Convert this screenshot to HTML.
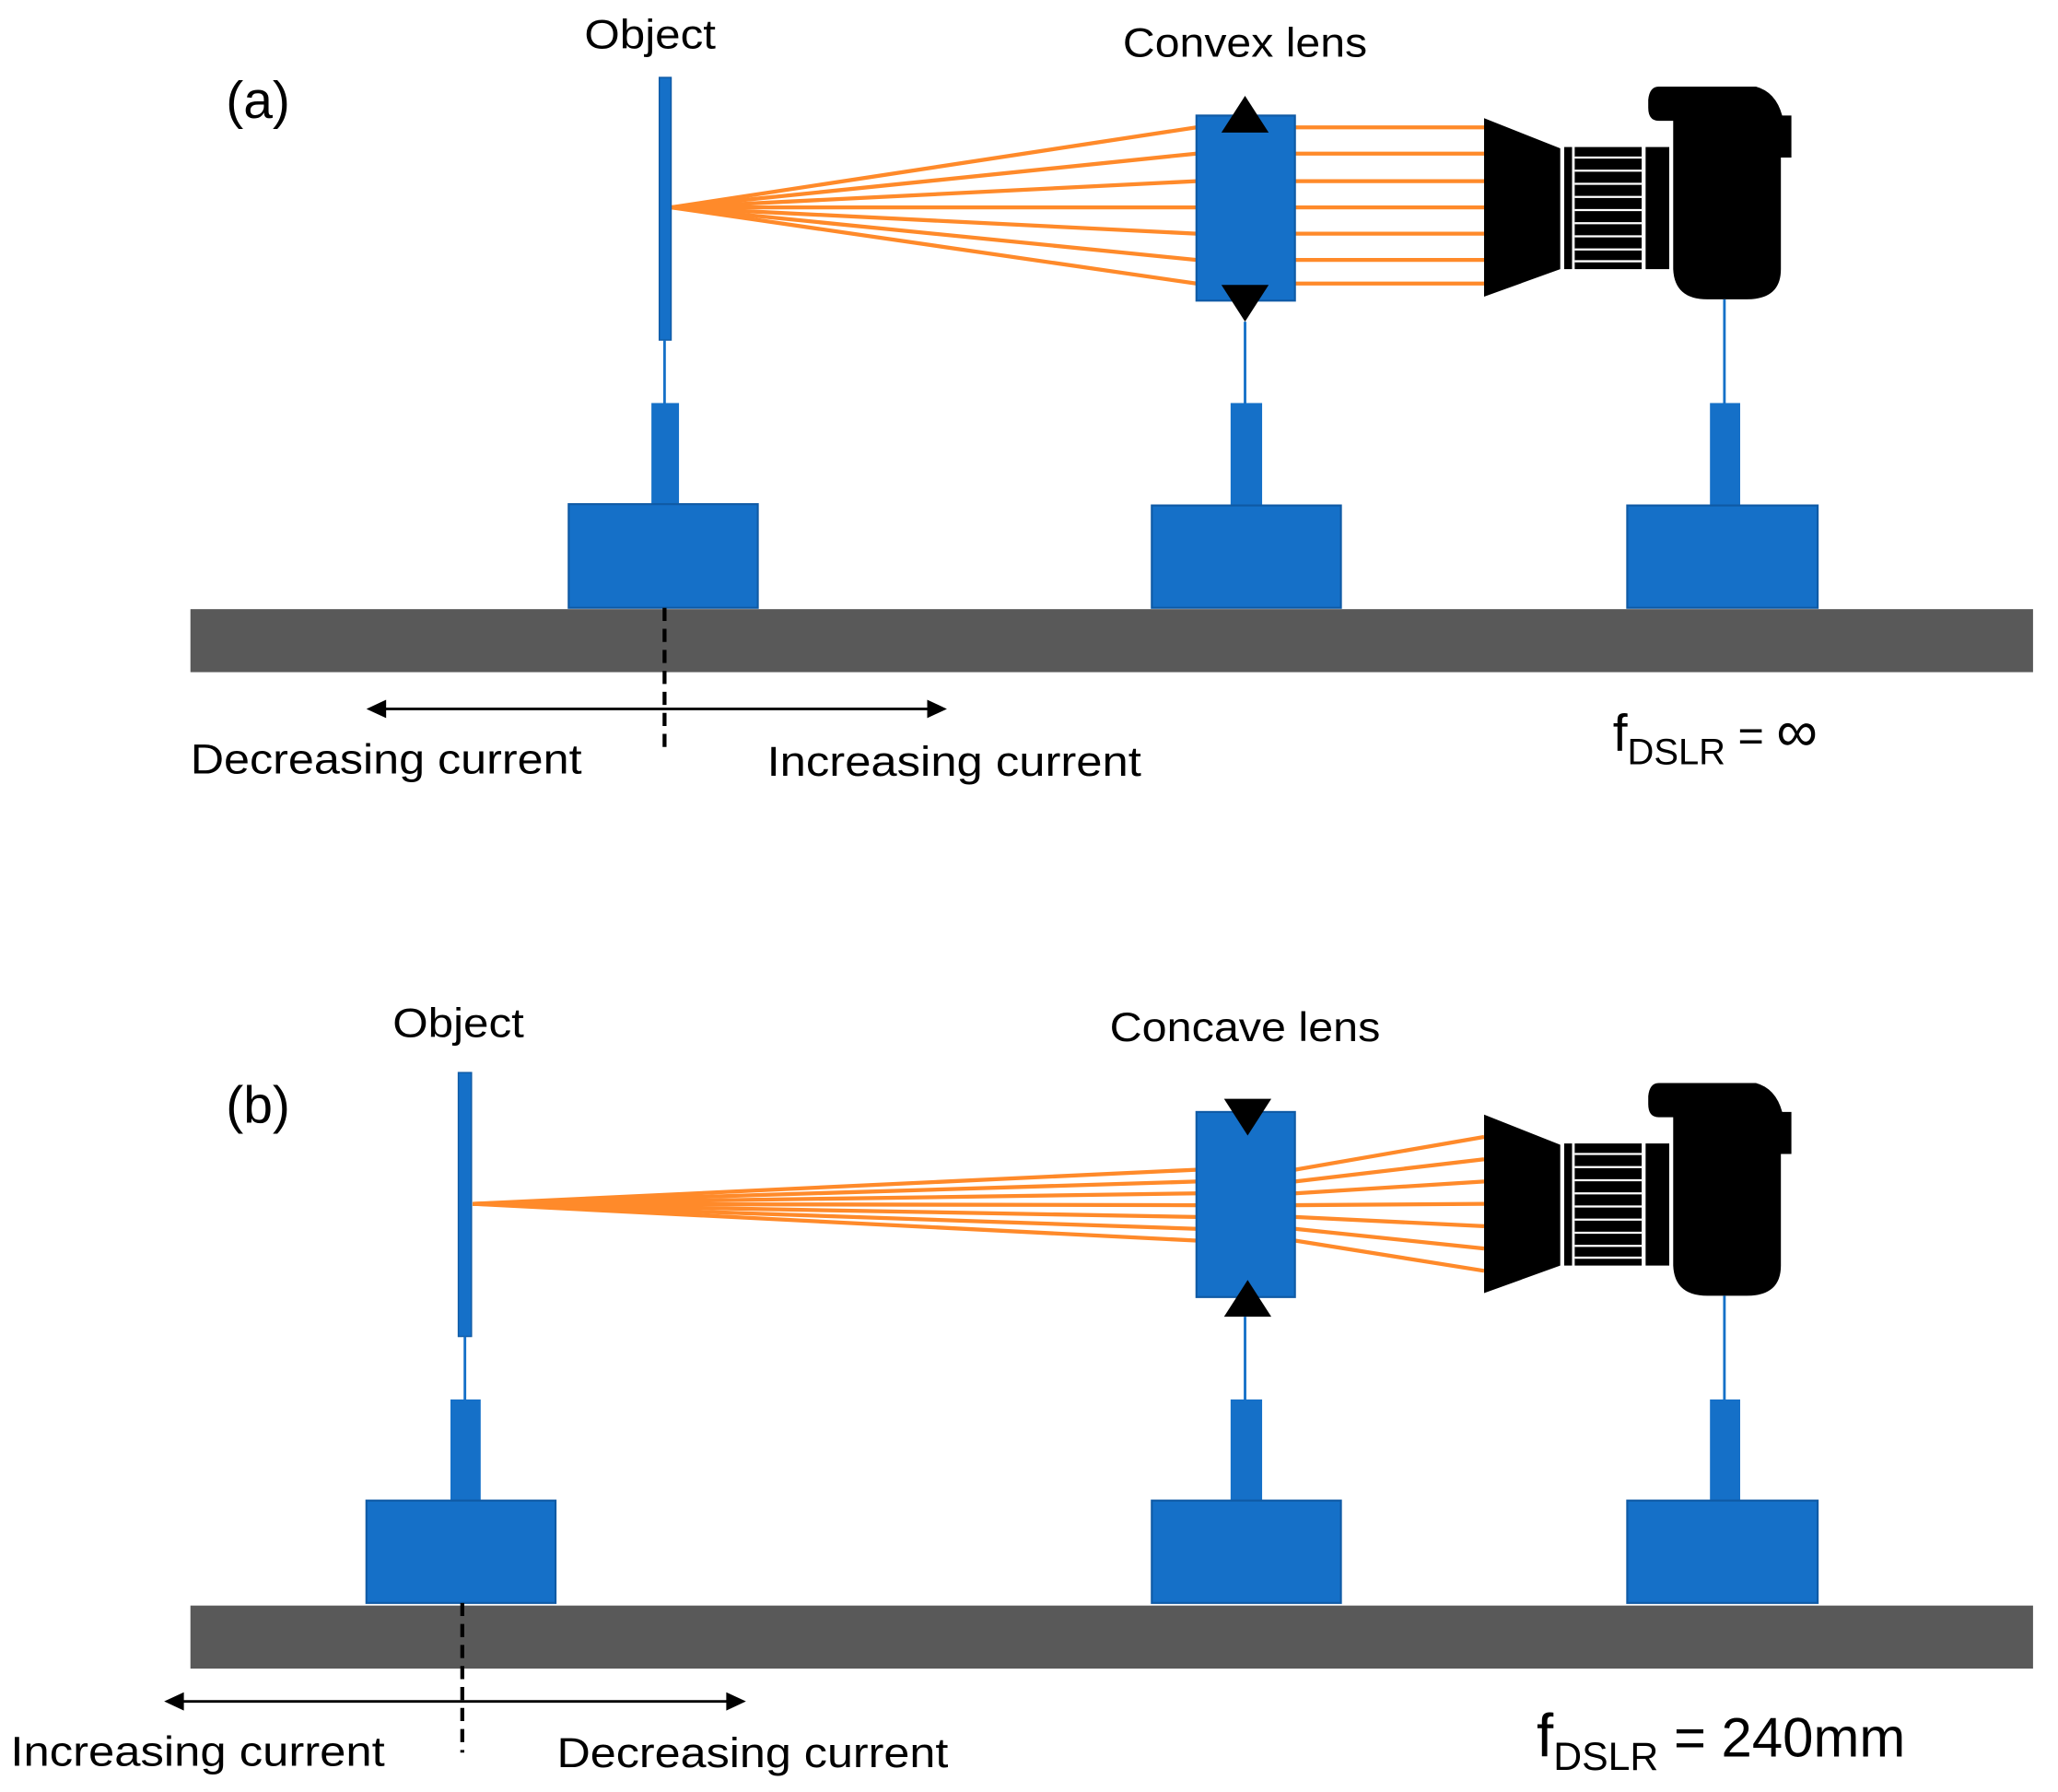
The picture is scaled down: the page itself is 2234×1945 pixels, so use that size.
<!DOCTYPE html>
<html><head><meta charset="utf-8"><style>
html,body{margin:0;padding:0;background:#fff;}
svg{display:block;}
text{font-family:"Liberation Sans",sans-serif;fill:#000;}
</style></head><body>
<svg width="2234" height="1945" viewBox="0 0 1567 1365" preserveAspectRatio="none" xmlns="http://www.w3.org/2000/svg">
<defs>
<g id="cam">
<polygon points="1130,90 1188,113 1188,205 1130,226" fill="#000"/>
<rect x="1191" y="112" width="6" height="93" fill="#000"/>
<rect x="1199" y="112" width="51" height="93" fill="#000"/>
<g stroke="#fff" stroke-width="1.6">
<line x1="1199" y1="120" x2="1250" y2="120"/><line x1="1199" y1="130" x2="1250" y2="130"/>
<line x1="1199" y1="140" x2="1250" y2="140"/><line x1="1199" y1="150" x2="1250" y2="150"/>
<line x1="1199" y1="160" x2="1250" y2="160"/><line x1="1199" y1="170" x2="1250" y2="170"/>
<line x1="1199" y1="180" x2="1250" y2="180"/><line x1="1199" y1="190" x2="1250" y2="190"/>
<line x1="1199" y1="199" x2="1250" y2="199"/>
</g>
<rect x="1253" y="112" width="18" height="93" fill="#000"/>
<path d="M1263,66 H1337 Q1352,70 1357,88 H1364 V120 H1356 V205 Q1356,228 1330,228 H1300 Q1275,228 1274,205 V92 H1263 Q1255,92 1255,82 V76 Q1256,66 1263,66 Z" fill="#000"/>
</g>
</defs>

<!-- (a) -->
<text x="172" y="90" font-size="40">(a)</text>
<text x="495" y="37" font-size="31" text-anchor="middle" textLength="100" lengthAdjust="spacingAndGlyphs">Object</text>
<text x="948" y="43" font-size="31" text-anchor="middle" textLength="186" lengthAdjust="spacingAndGlyphs">Convex lens</text>

<g stroke="#ff8a2a" stroke-width="3">
<line x1="511" y1="158" x2="911" y2="97"/><line x1="511" y1="158" x2="911" y2="117"/>
<line x1="511" y1="158" x2="911" y2="138"/><line x1="511" y1="158" x2="911" y2="158"/>
<line x1="511" y1="158" x2="911" y2="178"/><line x1="511" y1="158" x2="911" y2="198"/>
<line x1="511" y1="158" x2="911" y2="216"/>
<line x1="986" y1="97" x2="1130" y2="97"/><line x1="986" y1="117" x2="1130" y2="117"/>
<line x1="986" y1="138" x2="1130" y2="138"/><line x1="986" y1="158" x2="1130" y2="158"/>
<line x1="986" y1="178" x2="1130" y2="178"/><line x1="986" y1="198" x2="1130" y2="198"/>
<line x1="986" y1="216" x2="1130" y2="216"/>
</g>

<rect x="145" y="464" width="1403" height="48" fill="#595959"/>
<rect x="502" y="59" width="9" height="200" fill="#1570c8" stroke="#0f5aa5" stroke-width="1"/>
<line x1="506" y1="259" x2="506" y2="307" stroke="#1570c8" stroke-width="2"/>
<rect x="496" y="307" width="21" height="77" fill="#1570c8"/>
<rect x="433" y="384" width="144" height="79" fill="#1570c8" stroke="#0f5aa5" stroke-width="1.5"/>

<rect x="911" y="88" width="75" height="141" fill="#1570c8" stroke="#0f5aa5" stroke-width="1.5"/>
<polygon points="948,73 930,101 966,101" fill="#000"/>
<polygon points="948,245 930,217 966,217" fill="#000"/>
<line x1="948" y1="245" x2="948" y2="307" stroke="#1570c8" stroke-width="2"/>
<rect x="937" y="307" width="24" height="78" fill="#1570c8"/>
<rect x="877" y="385" width="144" height="78" fill="#1570c8" stroke="#0f5aa5" stroke-width="1.5"/>

<use href="#cam"/>
<line x1="1313" y1="228" x2="1313" y2="307" stroke="#1570c8" stroke-width="2"/>
<rect x="1302" y="307" width="23" height="78" fill="#1570c8"/>
<rect x="1239" y="385" width="145" height="78" fill="#1570c8" stroke="#0f5aa5" stroke-width="1.5"/>

<line x1="506" y1="463" x2="506" y2="575" stroke="#000" stroke-width="3" stroke-dasharray="10,6"/>
<line x1="288" y1="540" x2="712" y2="540" stroke="#000" stroke-width="2"/>
<polygon points="279,540 294,533 294,547" fill="#000"/>
<polygon points="721,540 706,533 706,547" fill="#000"/>
<text x="145" y="589" font-size="32" textLength="298" lengthAdjust="spacingAndGlyphs">Decreasing current</text>
<text x="584" y="591" font-size="32" textLength="285" lengthAdjust="spacingAndGlyphs">Increasing current</text>
<text x="1228" y="572" font-size="40">f<tspan font-size="28" dy="10">DSLR</tspan><tspan dy="-10" font-size="34"> = </tspan><tspan font-size="44">∞</tspan></text>

<!-- (b) -->
<text x="172" y="855" font-size="40">(b)</text>
<text x="349" y="790" font-size="31" text-anchor="middle" textLength="100" lengthAdjust="spacingAndGlyphs">Object</text>
<text x="948" y="793" font-size="31" text-anchor="middle" textLength="206" lengthAdjust="spacingAndGlyphs">Concave lens</text>

<g stroke="#ff8a2a" stroke-width="3">
<line x1="360" y1="917" x2="911" y2="891"/><line x1="360" y1="917" x2="911" y2="900"/>
<line x1="360" y1="917" x2="911" y2="909"/><line x1="360" y1="917" x2="911" y2="918"/>
<line x1="360" y1="917" x2="911" y2="927"/><line x1="360" y1="917" x2="911" y2="936"/>
<line x1="360" y1="917" x2="911" y2="945"/>
<line x1="986" y1="891" x2="1130" y2="866"/><line x1="986" y1="900" x2="1130" y2="883"/>
<line x1="986" y1="909" x2="1130" y2="900"/><line x1="986" y1="918" x2="1130" y2="917"/>
<line x1="986" y1="927" x2="1130" y2="934"/><line x1="986" y1="936" x2="1130" y2="951"/>
<line x1="986" y1="945" x2="1130" y2="968"/>
</g>

<rect x="145" y="1223" width="1403" height="48" fill="#595959"/>
<rect x="349" y="817" width="10" height="201" fill="#1570c8" stroke="#0f5aa5" stroke-width="1"/>
<line x1="354" y1="1018" x2="354" y2="1066" stroke="#1570c8" stroke-width="2"/>
<rect x="343" y="1066" width="23" height="77" fill="#1570c8"/>
<rect x="279" y="1143" width="144" height="78" fill="#1570c8" stroke="#0f5aa5" stroke-width="1.5"/>

<rect x="911" y="847" width="75" height="141" fill="#1570c8" stroke="#0f5aa5" stroke-width="1.5"/>
<polygon points="950,865 932,837 968,837" fill="#000"/>
<polygon points="950,975 932,1003 968,1003" fill="#000"/>
<line x1="948" y1="1003" x2="948" y2="1066" stroke="#1570c8" stroke-width="2"/>
<rect x="937" y="1066" width="24" height="77" fill="#1570c8"/>
<rect x="877" y="1143" width="144" height="78" fill="#1570c8" stroke="#0f5aa5" stroke-width="1.5"/>

<use href="#cam" transform="translate(0,759)"/>
<line x1="1313" y1="987" x2="1313" y2="1066" stroke="#1570c8" stroke-width="2"/>
<rect x="1302" y="1066" width="23" height="77" fill="#1570c8"/>
<rect x="1239" y="1143" width="145" height="78" fill="#1570c8" stroke="#0f5aa5" stroke-width="1.5"/>

<line x1="352" y1="1221" x2="352" y2="1335" stroke="#000" stroke-width="3" stroke-dasharray="10,6"/>
<line x1="134" y1="1296" x2="559" y2="1296" stroke="#000" stroke-width="2"/>
<polygon points="125,1296 140,1289 140,1303" fill="#000"/>
<polygon points="568,1296 553,1289 553,1303" fill="#000"/>
<text x="8" y="1345" font-size="32" textLength="285" lengthAdjust="spacingAndGlyphs">Increasing current</text>
<text x="424" y="1346" font-size="32" textLength="298" lengthAdjust="spacingAndGlyphs">Decreasing current</text>
<text x="1170" y="1338" font-size="46">f<tspan font-size="30" dy="10">DSLR</tspan><tspan dy="-10" font-size="42"> = 240mm</tspan></text>
</svg>
</body></html>
